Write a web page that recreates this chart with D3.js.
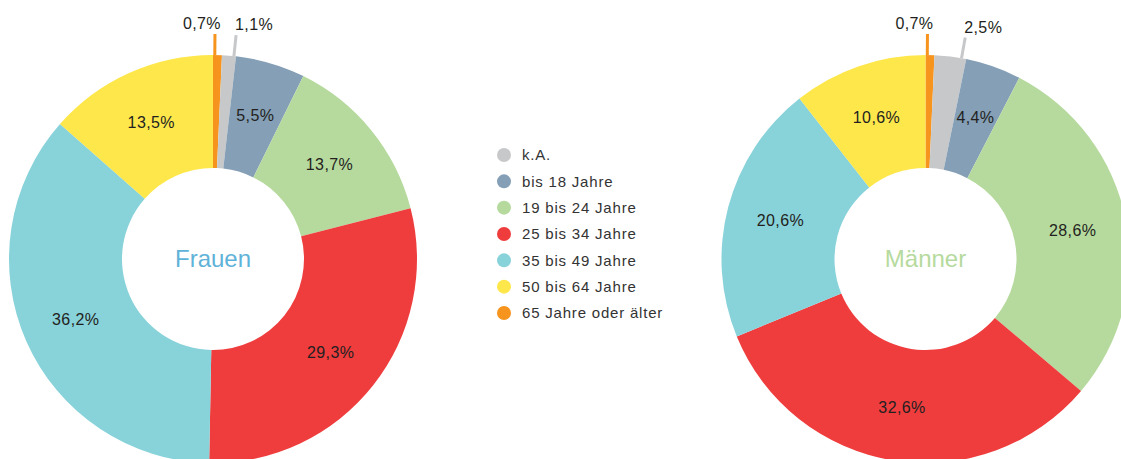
<!DOCTYPE html>
<html>
<head>
<meta charset="utf-8">
<script src="https://cdn.jsdelivr.net/npm/d3@7"></script>
<style>
    html, body { margin: 0; padding: 0; background: #fff; }
    svg { display: block; font-family: "Liberation Sans", Arial, sans-serif; }
</style>
</head>
<body>
<div id="chart"></div>
<script>
/*
Altersverteilung Frauen / Maenner (two donuts)
*/

var categories = ["k.A.", "bis 18 Jahre", "19 bis 24 Jahre", "25 bis 34 Jahre",
                  "35 bis 49 Jahre", "50 bis 64 Jahre", "65 Jahre oder älter"];

var frauenValues  = [1.1, 5.5, 13.7, 29.3, 36.2, 13.5, 0.7];
var maennerValues = [2.5, 4.4, 28.6, 32.6, 20.6, 10.6, 0.7];

var groups = ["Frauen", "Männer"];

var colors = ["#c7c8ca", "#849fb6", "#b6da9e", "#ef3d3e", "#88d2da", "#fee74a", "#f7941e"];
var groupColors = ["#5fb3d8", "#b6da9e"];

// slices start at 12 o'clock with the oldest group, then k.A., then the rest
var drawOrder = [6, 0, 1, 2, 3, 4, 5];

var width = 1121,
    height = 459;

var outerRadius = 204,
    innerRadius = 91,
    labelRadius = 150;

var color = d3.scaleOrdinal(categories, colors);
var pct = d3.formatLocale({decimal: ",", thousands: ".", grouping: [3], currency: ["", "€"]}).format(".1f");

var svg = d3.select("#chart")
    .append("svg")
    .attr("width", width)
    .attr("height", height);

var centerX = d3.scalePoint()
    .domain(groups)
    .range([213, 925.5]);

var centerY = 259;

var pie = d3.pie()
    .sort(null)
    .value(function(d) { return d.value; });

var arc = d3.arc()
    .innerRadius(innerRadius)
    .outerRadius(outerRadius);

var labelArc = d3.arc()
    .innerRadius(labelRadius)
    .outerRadius(labelRadius);

function polar(angle, r) {
    return [Math.sin(angle) * r, -Math.cos(angle) * r];
}

function drawDonut(name, values, idx) {
    var data = drawOrder.map(function(i) {
        return {key: categories[i], value: values[i]};
    });
    var arcs = pie(data);

    var g = svg.append("g")
        .attr("transform", "translate(" + centerX(name) + "," + centerY + ")");

    g.selectAll("path")
        .data(arcs)
        .enter()
        .append("path")
        .attr("d", arc)
        .attr("fill", function(d) { return color(d.data.key); });

    // big slices: label inside the ring
    g.selectAll("text.inner")
        .data(arcs.filter(function(d) { return d.data.value >= 3; }))
        .enter()
        .append("text")
        .attr("class", "inner")
        .attr("x", function(d) { return labelArc.centroid(d)[0]; })
        .attr("y", function(d) { return labelArc.centroid(d)[1]; })
        .attr("dy", "0.35em")
        .attr("text-anchor", "middle")
        .attr("font-size", "16px")
        .attr("letter-spacing", "0.4px")
        .attr("fill", "#231f20")
        .text(function(d) { return pct(d.data.value) + "%"; });

    // tiny slices: leader line up to a label above the ring,
    // first one kept left in its slice, second pushed right
    var small = arcs.filter(function(d) { return d.data.value < 3; });
    var spread = [0.2, 0.85];

    small.forEach(function(d, j) {
        var a = d.startAngle + (d.endAngle - d.startAngle) * spread[j];
        var p0 = polar(a, outerRadius);
        var p1 = polar(a, outerRadius + 21);

        g.append("line")
            .attr("x1", p0[0])
            .attr("y1", p0[1])
            .attr("x2", p1[0])
            .attr("y2", p1[1])
            .attr("stroke", color(d.data.key))
            .attr("stroke-width", 3);

        g.append("text")
            .attr("x", j == 0 ? p1[0] + 6 : p1[0] - 1)
            .attr("y", p1[1] - 5)
            .attr("text-anchor", j == 0 ? "end" : "start")
            .attr("font-size", "16px")
            .attr("letter-spacing", "0.4px")
            .attr("fill", "#231f20")
            .text(pct(d.data.value) + "%");
    });

    g.append("text")
        .attr("x", 0)
        .attr("y", 0)
        .attr("dy", "0.35em")
        .attr("text-anchor", "middle")
        .attr("font-size", "24px")
        .attr("fill", groupColors[idx])
        .text(name);
}

drawDonut(groups[0], frauenValues, 0);
drawDonut(groups[1], maennerValues, 1);

// legend
var legendY = d3.scalePoint()
    .domain(categories)
    .range([155, 313]);

var legend = svg.append("g");

var item = legend.selectAll("g")
    .data(categories)
    .enter()
    .append("g")
    .attr("transform", function(d) { return "translate(504," + legendY(d) + ")"; });

item.append("circle")
    .attr("r", 7)
    .attr("fill", function(d) { return color(d); });

item.append("text")
    .attr("x", 18)
    .attr("dy", "0.36em")
    .attr("font-size", "15px")
    .attr("letter-spacing", "0.8px")
    .attr("fill", "#333")
    .text(function(d) { return d; });
</script>
</body>
</html>
